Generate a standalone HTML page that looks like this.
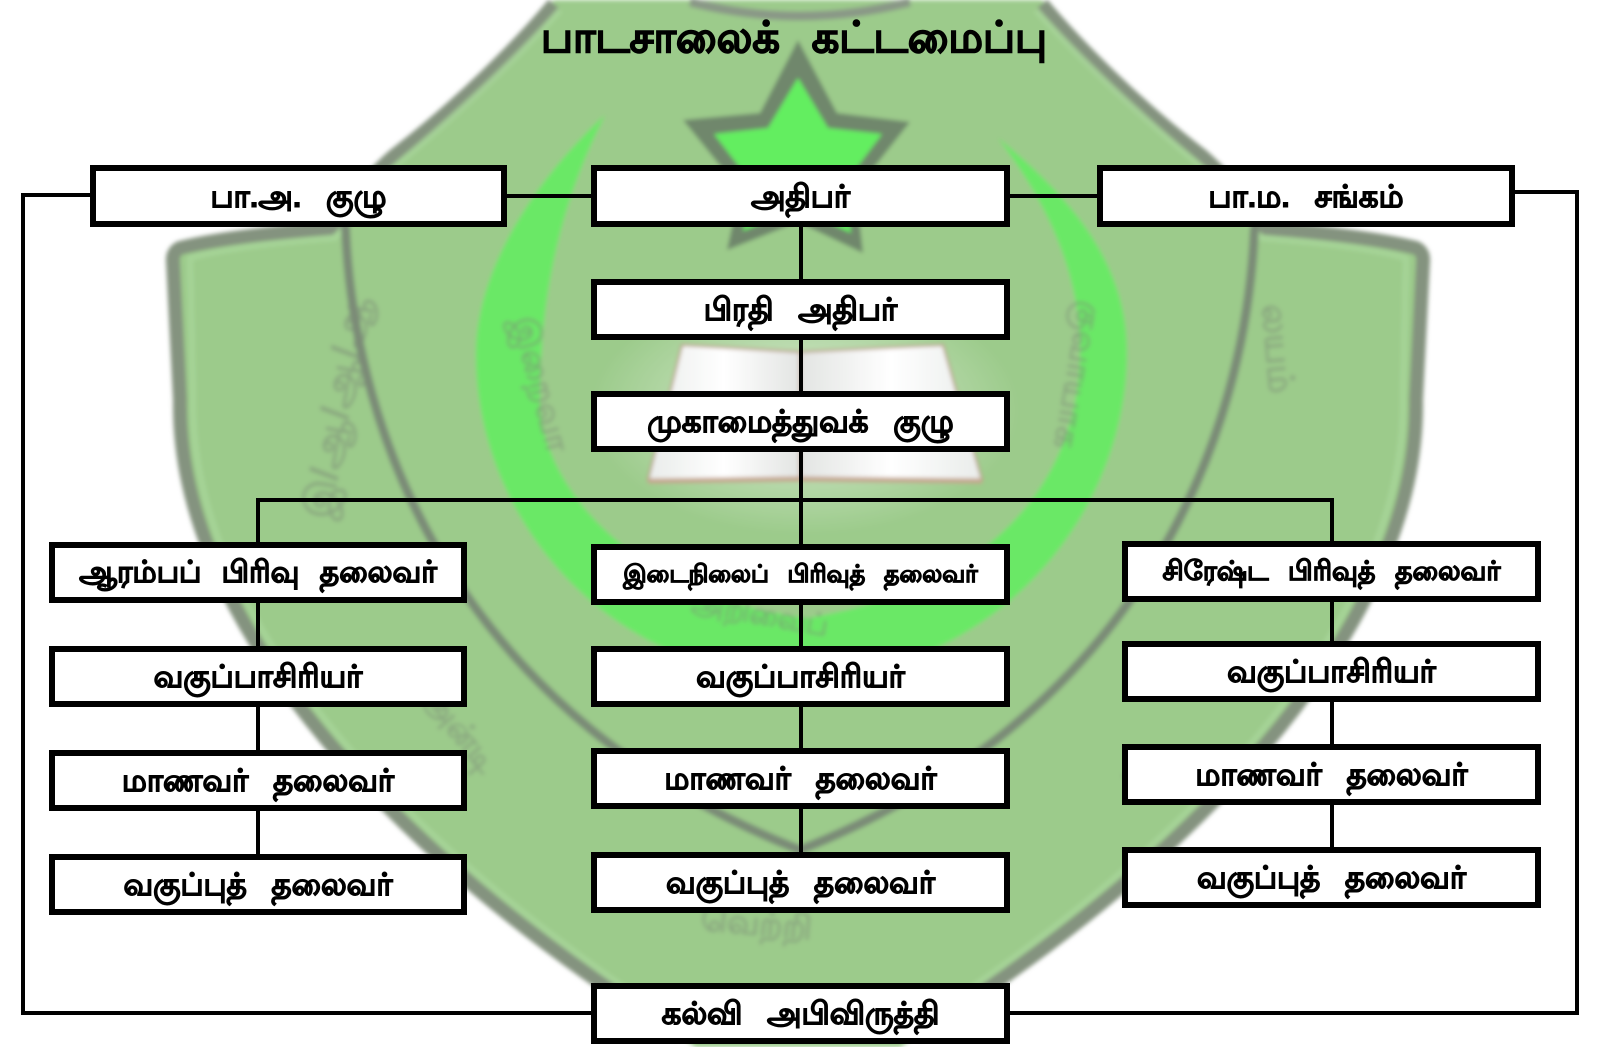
<!DOCTYPE html>
<html>
<head>
<meta charset="utf-8">
<style>
html,body{margin:0;padding:0;background:#fff;width:1600px;height:1047px;overflow:hidden;}
#wrap{position:relative;width:1600px;height:1047px;overflow:hidden;background:#fff;
  font-family:"Liberation Sans","DejaVu Sans",sans-serif;}
svg{position:absolute;left:0;top:0;}
.box{position:absolute;box-sizing:border-box;border:6px solid #000;background:#fff;
  display:flex;align-items:center;justify-content:center;font-weight:bold;color:#000;
  font-size:31px;word-spacing:16px;white-space:nowrap;line-height:1;
  -webkit-text-stroke:0.9px #000;overflow:hidden;}
.title{position:absolute;left:450px;width:688px;top:10px;height:56px;text-align:center;
  font-weight:bold;font-size:43px;line-height:56px;word-spacing:20px;white-space:nowrap;color:#000;
  -webkit-text-stroke:1.2px #000;overflow:hidden;}
</style>
</head>
<body>
<div id="wrap">
<svg width="1600" height="1047" viewBox="0 0 1600 1047">
  <defs>
    <filter id="b2" x="-10%" y="-10%" width="120%" height="120%"><feGaussianBlur stdDeviation="2"/></filter>
    <radialGradient id="glow" cx="0.5" cy="0.5" r="0.5">
      <stop offset="0" stop-color="#ffffff" stop-opacity="0.85"/>
      <stop offset="1" stop-color="#ffffff" stop-opacity="0"/>
    </radialGradient>
    <linearGradient id="pl" x1="0" y1="0" x2="1" y2="0">
      <stop offset="0" stop-color="#e9ecea"/>
      <stop offset="0.5" stop-color="#ffffff"/>
      <stop offset="1" stop-color="#e2e4e2"/>
    </linearGradient>
    <linearGradient id="pr" x1="0" y1="0" x2="1" y2="0">
      <stop offset="0" stop-color="#e2e4e2"/>
      <stop offset="0.5" stop-color="#ffffff"/>
      <stop offset="1" stop-color="#e9ecea"/>
    </linearGradient>
  </defs>

  <g filter="url(#b2)">
    <!-- shield fill (cut at bottom edge) -->
    <path d="M 575 0 L 554 0 C 520 45, 460 105, 395 155 C 360 185, 345 215, 330 228
             C 280 232, 220 238, 180 248 Q 172 252, 173 262 L 180 400
             C 176 646, 442 893, 696 1047 L 900 1047
             C 1154 893, 1420 646, 1416 400 L 1423 262 Q 1424 252, 1416 248 C 1376 238, 1316 232, 1266 228
             C 1251 215, 1236 185, 1201 155 C 1136 105, 1076 45, 1042 0 Z"
          fill="#9ccb8b"/>
    <!-- shield rim -->
    <path d="M 554 4 C 520 45, 460 105, 395 155 C 360 185, 345 215, 330 228
             C 280 232, 220 238, 180 248 Q 172 252, 173 262 L 180 400
             C 176 640, 430 880, 680 1035"
          fill="none" stroke="#84937f" stroke-width="14"/>
    <path d="M 1042 4 C 1076 45, 1136 105, 1201 155 C 1236 185, 1251 215, 1266 228
             C 1316 232, 1376 238, 1416 248 Q 1424 252, 1423 262 L 1416 400
             C 1420 640, 1166 880, 916 1035"
          fill="none" stroke="#84937f" stroke-width="14"/>
    <!-- inner lighter rim -->
    <path d="M 560 10 C 520 55, 460 112, 400 162 C 365 192, 350 222, 335 238
             C 280 242, 225 248, 190 258 L 193 400 C 190 640, 440 870, 680 1025"
          fill="none" stroke="#a9d69a" stroke-width="6" opacity="0.8"/>
    <path d="M 1036 10 C 1076 55, 1136 112, 1196 162 C 1231 192, 1246 222, 1261 238
             C 1316 242, 1371 248, 1406 258 L 1403 400 C 1406 640, 1156 870, 916 1025"
          fill="none" stroke="#a9d69a" stroke-width="6" opacity="0.8"/>
    <path d="M 690 2 Q 800 30 910 2" fill="none" stroke="#8a9887" stroke-width="9"/>
    <path d="M 345 212 C 350 450, 470 720, 800 850 C 1130 720, 1250 450, 1255 212"
          fill="none" stroke="#7a8b77" stroke-width="9"/>
    <path d="M 605 115 C 545 170, 478 260, 476 350 C 474 470, 545 600, 680 655
             C 740 678, 860 678, 920 655 C 1055 600, 1128 470, 1127 350 C 1126 260, 1068 195, 998 138
             C 1045 200, 1080 270, 1080 350 C 1080 470, 1005 585, 808 618
             C 625 595, 540 480, 540 400 C 540 290, 562 200, 605 115 Z"
          fill="#6ae866"/>
    <ellipse cx="805" cy="410" rx="215" ry="125" fill="url(#glow)" opacity="0.75"/>
    <polygon points="682,345 800,352 800,478 648,480" fill="url(#pl)" stroke="#b89680" stroke-width="2"/>
    <polygon points="800,352 943,345 982,480 800,478" fill="url(#pr)" stroke="#b89680" stroke-width="2"/>
    <path d="M 648 481 L 800 479 L 982 481" fill="none" stroke="#c4a58e" stroke-width="5"/>
    <polygon points="798,40 837,113 910,122 856,190 863,253 798,222 727,250 740,190 683,120 760,113"
             fill="#6f876c"/>
    <polygon points="798,78 828,128 882,134 843,186 851,233 798,208 743,231 754,186 714,134 768,128"
             fill="#64ee60"/>
    <g fill="#7d8c79" opacity="0.55" font-weight="bold" font-family="'Liberation Sans','DejaVu Sans',sans-serif">
      <text x="0" y="0" font-size="40" transform="translate(330,520) rotate(-80)">இ/ஆ/ஆ/ஆ</text>
      <text x="0" y="0" font-size="36" transform="translate(1262,305) rotate(85)">லயம்</text>
      <text x="0" y="0" font-size="34" transform="translate(512,320) rotate(75)">இறைவா</text>
      <text x="0" y="0" font-size="34" transform="translate(1080,300) rotate(100)">குவாயாக</text>
      <text x="0" y="0" font-size="30" transform="translate(690,612) rotate(10)">அறிவைப்</text>
      <text x="0" y="0" font-size="34" transform="translate(420,700) rotate(50)">அன்டி</text>
      <text x="0" y="0" font-size="34" transform="translate(1130,790) rotate(-40)">மக</text>
      <text x="0" y="0" font-size="34" transform="translate(700,930) rotate(5)">வெற்றி</text>
    </g>
  </g>

  <g stroke="#000" stroke-width="4" fill="none" stroke-linecap="square">
    <polyline points="90,195 23,195 23,1013 591,1013"/>
    <line x1="507" y1="196" x2="591" y2="196"/>
    <line x1="1010" y1="196" x2="1097" y2="196"/>
    <polyline points="1515,192 1577,192 1577,1013 1010,1013"/>
    <line x1="801" y1="227" x2="801" y2="544"/>
    <line x1="801" y1="605" x2="801" y2="852"/>
    <line x1="258" y1="500" x2="1332" y2="500"/>
    <line x1="258" y1="500" x2="258" y2="854"/>
    <line x1="1332" y1="500" x2="1332" y2="847"/>
  </g>
</svg>

<div class="title">பாடசாலைக் கட்டமைப்பு</div>

<div class="box" style="left:90px;top:165px;width:417px;height:62px;">பா.அ. குழு</div>
<div class="box" style="left:591px;top:165px;width:419px;height:62px;">அதிபர்</div>
<div class="box" style="left:1097px;top:165px;width:418px;height:62px;">பா.ம. சங்கம்</div>

<div class="box" style="left:591px;top:279px;width:419px;height:61px;">பிரதி அதிபர்</div>
<div class="box" style="left:591px;top:391px;width:419px;height:61px;">முகாமைத்துவக் குழு</div>

<div class="box" style="left:49px;top:542px;width:418px;height:61px;font-size:30px;word-spacing:12px;">ஆரம்பப் பிரிவு தலைவர்</div>
<div class="box" style="left:49px;top:646px;width:418px;height:61px;">வகுப்பாசிரியர்</div>
<div class="box" style="left:49px;top:750px;width:418px;height:61px;">மாணவர் தலைவர்</div>
<div class="box" style="left:49px;top:854px;width:418px;height:61px;">வகுப்புத் தலைவர்</div>

<div class="box" style="left:591px;top:544px;width:419px;height:61px;font-size:24px;word-spacing:12px;">இடைநிலைப் பிரிவுத் தலைவர்</div>
<div class="box" style="left:591px;top:646px;width:419px;height:61px;">வகுப்பாசிரியர்</div>
<div class="box" style="left:591px;top:748px;width:419px;height:61px;">மாணவர் தலைவர்</div>
<div class="box" style="left:591px;top:852px;width:419px;height:61px;">வகுப்புத் தலைவர்</div>

<div class="box" style="left:1122px;top:541px;width:419px;height:61px;font-size:27px;word-spacing:12px;">சிரேஷ்ட பிரிவுத் தலைவர்</div>
<div class="box" style="left:1122px;top:641px;width:419px;height:61px;">வகுப்பாசிரியர்</div>
<div class="box" style="left:1122px;top:744px;width:419px;height:61px;">மாணவர் தலைவர்</div>
<div class="box" style="left:1122px;top:847px;width:419px;height:61px;">வகுப்புத் தலைவர்</div>

<div class="box" style="left:591px;top:983px;width:419px;height:61px;">கல்வி அபிவிருத்தி</div>
</div>
</body>
</html>
